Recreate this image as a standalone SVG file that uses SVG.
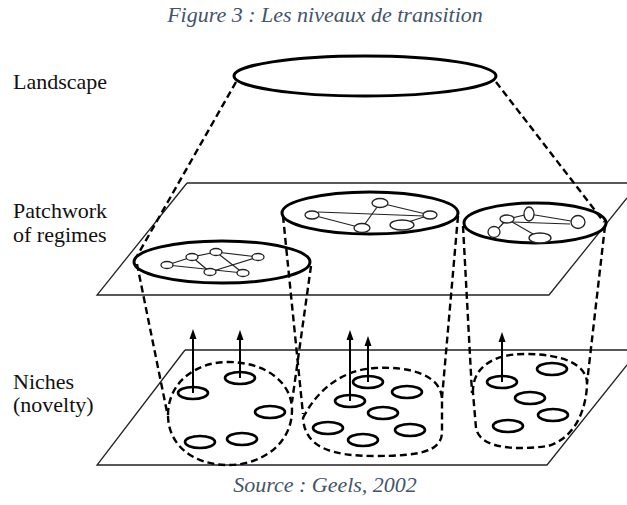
<svg xmlns="http://www.w3.org/2000/svg" width="627" height="505" viewBox="0 0 627 505">
<style>
.cap{font-family:"Liberation Serif","Times New Roman","DejaVu Serif",serif;font-style:italic;fill:#44546A;font-size:22px}
.lbl{font-family:"Liberation Serif","Times New Roman","DejaVu Serif",serif;fill:#111;font-size:22px}
.plane{fill:none;stroke:#222;stroke-width:1.3}
.big{fill:none;stroke:#000;stroke-width:3}
.dash{fill:none;stroke:#000;stroke-width:2.4;stroke-dasharray:7 4}
.net line{stroke:#222;stroke-width:1.2}
.net ellipse{fill:#fff;stroke:#222;stroke-width:1.3}
.nic{fill:#fff;stroke:#000;stroke-width:2.6}
.arr{stroke:#000;stroke-width:2}
.head{fill:#000}
</style>
<rect width="627" height="505" fill="#fff"/>
<text class="cap" x="325" y="22" text-anchor="middle">Figure 3 : Les niveaux de transition</text>
<text class="cap" x="325" y="492" text-anchor="middle">Source : Geels, 2002</text>

<g id="labels">
<text class="lbl" x="13" y="89">Landscape</text>
<text class="lbl" x="13" y="218">Patchwork</text>
<text class="lbl" x="13" y="242">of regimes</text>
<text class="lbl" x="13" y="389">Niches</text>
<text class="lbl" x="13" y="412">(novelty)</text>
</g>

<g id="planes">
<path class="plane" d="M187,183 L627,183 M627,198 L549,295 L97,295 L187,183"/>
<path class="plane" d="M185,350 L627,350 M627,365 L547,465 L97,465 L185,350"/>
</g>

<g id="connectors">
<path class="dash" d="M236,82 L137,256"/>
<path class="dash" d="M496,82 L604,222"/>
<path class="dash" d="M137,264 L167,412"/>
<path class="dash" d="M311,266 L292,402"/>
<path class="dash" d="M283,216 L303,414"/>
<path class="dash" d="M458,216 L442,398"/>
<path class="dash" d="M463,226 L472,393"/>
<path class="dash" d="M605,226 L587,383"/>
</g>

<g id="landscape">
<ellipse class="big" cx="365" cy="76" rx="131" ry="20"/>
</g>

<g id="regime-left">
<ellipse class="big" cx="222" cy="262" rx="88" ry="21"/>
<g class="net">
<line x1="167" y1="265" x2="192" y2="257"/><line x1="192" y1="257" x2="216" y2="252"/>
<line x1="216" y1="252" x2="258" y2="257"/><line x1="192" y1="257" x2="210" y2="272"/>
<line x1="216" y1="252" x2="243" y2="273"/><line x1="210" y1="272" x2="258" y2="257"/>
<line x1="167" y1="265" x2="243" y2="273"/>
<ellipse cx="167" cy="265" rx="6" ry="3.5"/><ellipse cx="192" cy="257" rx="6" ry="3.5"/>
<ellipse cx="216" cy="252" rx="6" ry="3.5"/><ellipse cx="258" cy="257" rx="6" ry="3.5"/>
<ellipse cx="210" cy="272" rx="6" ry="3.5"/><ellipse cx="243" cy="273" rx="6" ry="3.5"/>
</g>
</g>

<g id="regime-middle">
<ellipse class="big" cx="370" cy="213" rx="88" ry="21"/>
<g class="net">
<line x1="312" y1="215" x2="362" y2="228"/><line x1="362" y1="228" x2="380" y2="203"/>
<line x1="380" y1="203" x2="430" y2="215"/><line x1="318" y1="212" x2="424" y2="216"/>
<line x1="402" y1="224" x2="430" y2="215"/>
<ellipse cx="312" cy="215" rx="7" ry="4"/><ellipse cx="380" cy="203" rx="8" ry="4.5"/>
<ellipse cx="430" cy="215" rx="7" ry="4"/><ellipse cx="362" cy="228" rx="8" ry="4.5"/>
<ellipse cx="402" cy="225" rx="12" ry="5"/>
</g>
</g>

<g id="regime-right">
<ellipse class="big" cx="535" cy="223" rx="71" ry="20"/>
<g class="net">
<line x1="507" y1="219" x2="529" y2="214"/><line x1="529" y1="214" x2="577" y2="222"/>
<line x1="512" y1="222" x2="570" y2="224"/><line x1="495" y1="232" x2="507" y2="219"/>
<line x1="507" y1="219" x2="540" y2="238"/>
<ellipse cx="507" cy="219" rx="7" ry="4"/><ellipse cx="529" cy="214" rx="5" ry="7"/>
<ellipse cx="578" cy="222" rx="7" ry="6.5"/><ellipse cx="494" cy="232" rx="6" ry="5.5"/>
<ellipse cx="540" cy="238" rx="11" ry="5"/>
</g>
</g>

<g id="niche-left">
<path class="dash" d="M168,415 C168,383 195,362 228,362 C265,362 292,382 292,410 C292,443 263,465 228,465 C193,465 168,445 168,415 Z"/>
<ellipse class="nic" cx="193" cy="393" rx="15" ry="6"/>
<ellipse class="nic" cx="240" cy="378" rx="15" ry="6"/>
<ellipse class="nic" cx="270" cy="412" rx="15" ry="6"/>
<ellipse class="nic" cx="200" cy="442" rx="15" ry="6"/>
<ellipse class="nic" cx="242" cy="439" rx="15" ry="6"/>
<line class="arr" x1="193" y1="393" x2="193" y2="337"/><path class="head" d="M193,329 L189.5,339 L196.5,339 Z"/>
<line class="arr" x1="240" y1="378" x2="240" y2="338"/><path class="head" d="M240,330 L236.5,340 L243.5,340 Z"/>
</g>

<g id="niche-middle">
<path class="dash" d="M303,418 C316,392 340,370 375,368 C412,366 442,376 442,400 L442,432 C442,452 418,456 375,456 C332,456 305,448 303,418 Z"/>
<ellipse class="nic" cx="350" cy="401" rx="15" ry="6"/>
<ellipse class="nic" cx="368" cy="382" rx="15" ry="6"/>
<ellipse class="nic" cx="407" cy="392" rx="15" ry="6"/>
<ellipse class="nic" cx="383" cy="413" rx="15" ry="6"/>
<ellipse class="nic" cx="328" cy="428" rx="15" ry="6"/>
<ellipse class="nic" cx="363" cy="440" rx="15" ry="6"/>
<ellipse class="nic" cx="410" cy="430" rx="15" ry="6"/>
<line class="arr" x1="350" y1="401" x2="350" y2="338"/><path class="head" d="M350,330 L346.5,340 L353.5,340 Z"/>
<line class="arr" x1="368" y1="382" x2="368" y2="344"/><path class="head" d="M368,336 L364.5,346 L371.5,346 Z"/>
</g>

<g id="niche-right">
<path class="dash" d="M473,393 C472,368 492,354 525,354 C562,354 588,364 587,385 C586,410 575,438 548,446 C520,450 480,450 476,428 Z"/>
<ellipse class="nic" cx="502" cy="382" rx="15" ry="6"/>
<ellipse class="nic" cx="552" cy="369" rx="15" ry="6"/>
<ellipse class="nic" cx="530" cy="398" rx="15" ry="6"/>
<ellipse class="nic" cx="553" cy="415" rx="15" ry="6"/>
<ellipse class="nic" cx="508" cy="426" rx="15" ry="6"/>
<line class="arr" x1="502" y1="382" x2="502" y2="340"/><path class="head" d="M502,332 L498.5,342 L505.5,342 Z"/>
</g>
</svg>
